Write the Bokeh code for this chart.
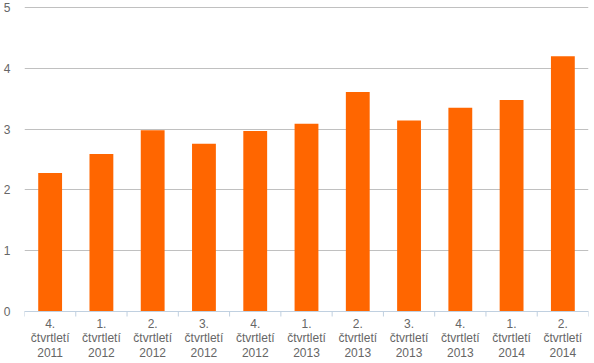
from bokeh.plotting import figure
from bokeh.models import Range1d, FactorRange, FixedTicker, Span
from bokeh.core.properties import value
from bokeh.embed import file_html
from bokeh.resources import INLINE

quarters = ["4.", "1.", "2.", "3.", "4.", "1.", "2.", "3.", "4.", "1.", "2."]
years = ["2011", "2012", "2012", "2012", "2012", "2013", "2013", "2013", "2013", "2014", "2014"]
values = [2.28, 2.59, 2.98, 2.76, 2.97, 3.09, 3.61, 3.14, 3.35, 3.48, 4.20]
y_ticks = [0, 1, 2, 3, 4, 5]

labels = [f"{q}\nčtvrtletí\n{y}" for q, y in zip(quarters, years)]
boundaries = list(range(len(labels) + 1))

FONT = "Liberation Sans"
TEXT = "#666666"
AXIS = "#C0D0E0"

W, H = 594, 363
UNIT = 60.8  # px per unit, used only to convert pixel offsets
p = figure(width=W, height=H, x_range=FactorRange(factors=labels),
           y_range=Range1d(-52 / UNIT, 5 + 7 / UNIT), output_backend="svg",
           toolbar_location=None, min_border_top=0, min_border_right=6,
           min_border_left=21, min_border_bottom=0)
p.outline_line_color = None
p.background_fill_color = "white"

p.xgrid.grid_line_color = None
p.ygrid.ticker = FixedTicker(ticks=y_ticks)
p.ygrid.grid_line_color = "#C0C0C0"
p.ygrid.grid_line_width = 1

p.yaxis.ticker = FixedTicker(ticks=y_ticks)
p.yaxis.axis_line_color = None
p.yaxis.major_tick_line_color = None
p.yaxis.minor_tick_line_color = None
p.yaxis.major_label_standoff = 8
p.yaxis.major_label_text_font = FONT
p.yaxis.major_label_text_font_size = "12px"
p.yaxis.major_label_text_color = TEXT

p.xaxis.visible = False

p.vbar(x=labels, top=values, bottom=0, width=0.465, color="#FF6600", line_color=None)

p.add_layout(Span(location=0, dimension="width", line_color=AXIS, line_width=1))
p.segment(x0=boundaries, y0=[0] * len(boundaries), x1=boundaries,
          y1=[-5 / UNIT] * len(boundaries), line_color=AXIS, line_width=1)

p.text(x=labels, y=[-5 / UNIT] * len(labels), text=labels,
       text_font=value(FONT), text_font_size="12px", text_color=TEXT,
       text_align="center", text_baseline="top", text_line_height=1.04)

open("out.html", "w").write(file_html(p, INLINE))
